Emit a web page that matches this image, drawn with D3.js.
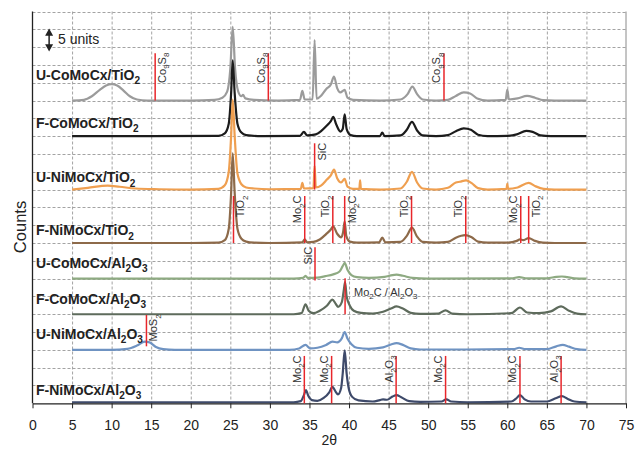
<!DOCTYPE html>
<html>
<head>
<meta charset="utf-8">
<script src="https://cdn.jsdelivr.net/npm/d3@7"></script>
<style>
body { margin: 0; background: #fff; }
svg { display: block; font-family: "Liberation Sans", Arial, sans-serif; }
</style>
</head>
<body>
<svg id="xrd" width="639" height="455"></svg>
<script>
// sample names, top to bottom ("_" marks a subscript)
const samples = ["U-CoMoCx/TiO_2", "F-CoMoCx/TiO_2", "U-NiMoCx/TiO_2", "F-NiMoCx/TiO_2",
                 "U-CoMoCx/Al_2O_3", "F-CoMoCx/Al_2O_3", "U-NiMoCx/Al_2O_3", "F-NiMoCx/Al_2O_3"];
// vertical shift of each pattern (counts units)
const offsets = [85, 75, 60, 45, 35, 25, 15, 0.3];
const colors = ["#9b9b9b", "#1c1c1c", "#ef9f50", "#8d6a4a", "#8eaa82", "#5e6b5c", "#6f93c2", "#3e4a6a"];

// patterns: [2theta, counts above own baseline]
const uCoTi = [[5,0],[6.5,0.2],[7.5,1.2],[8.5,3],[9.3,4.2],[10,4.6],[10.7,4.2],[11.5,2.8],[12.3,1.2],[13.2,0.3],[14.5,0],
  [20,0],[23,0.2],[24,0.8],[24.6,2.5],[25,9],[25.3,20.7],[25.6,9],[26,2.5],[26.4,1.2],[26.6,1.6],[26.9,0.6],[28,0.2],[31,0],
  [33.8,0.2],[34.1,2.7],[34.4,0.3],[35.4,0.3],[35.65,17],[35.9,0.5],[36.4,1.2],[37.1,3.2],[37.7,4.5],[38.1,6.7],[38.5,3.5],
  [38.9,2.3],[39.45,3],[39.8,0.8],[40.5,0.2],[44,0],[46.5,0.3],[47.4,1.8],[48,3.9],[48.6,1.8],[49.3,0.3],[51,0],[52.5,0.2],
  [53.5,1.3],[54.5,2.3],[55.3,2],[56.2,0.6],[57.5,0],[59.8,0.2],[60,3.1],[60.2,0.3],[61.3,0.6],[62.5,1.3],[63.5,0.8],
  [64.5,0.1],[66,0],[70,0]];
const fCoTi = [[5,0],[15,0],[23.5,0.1],[24.3,0.8],[24.8,3.5],[25.1,12],[25.3,21.3],[25.55,12],[25.9,3.5],[26.4,1],[27,0.3],
  [29,0],[33.8,0.1],[34.3,1.2],[34.7,0.2],[35.8,0.5],[36.5,1.5],[37.2,3],[37.7,4.2],[38,5.4],[38.4,3.2],[38.9,1.3],[39.2,2],
  [39.45,6.1],[39.7,2],[40.2,0.3],[41,0],[43.9,0],[44.2,1],[44.5,0],[46.5,0.2],[47.3,1.8],[47.95,4],[48.6,1.6],[49.3,0.2],
  [51,0],[52.5,0.3],[53.5,1.4],[54.5,2.2],[55.4,1.8],[56.3,0.4],[57.5,0],[60,0.1],[61.2,0.5],[62.4,1.5],[63.2,1.2],
  [64.2,0.2],[65.5,0],[70,0]];
const uNiTi = [[5,0],[7,0.5],[9.5,1.1],[11,0.8],[13,0.3],[16,0.1],[20,0],[23.5,0.2],[24.3,1.2],[24.8,5],[25.1,15],
  [25.3,25.3],[25.55,15],[25.9,4.5],[26.4,1.5],[27,0.6],[28,0.3],[30,0.1],[33.9,0.2],[34.1,1.9],[34.3,0.3],[35.5,0.4],
  [35.65,6.7],[35.8,0.6],[36.5,1.2],[37.2,2.8],[37.7,4],[38.1,5.6],[38.5,3.2],[39,2],[39.45,3],[39.8,0.8],[40.5,0.2],
  [41.3,0.2],[41.4,2.6],[41.5,0.2],[44,0],[46.5,0.3],[47.3,2.2],[47.95,5],[48.6,2],[49.3,0.3],[51,0],[52.5,0.5],[53.5,2],
  [54,2.2],[54.8,2.6],[55.5,1.8],[56.3,0.4],[57.5,0],[59.9,0.2],[60,1.6],[60.1,0.2],[61.3,0.6],[62.7,1.9],[63.6,0.9],
  [64.6,0.2],[66,0],[70,0]];
const fNiTi = [[5,0],[20,0],[23.5,0.1],[24.3,0.8],[24.8,4],[25.1,14],[25.3,25.2],[25.55,14],[25.9,4],[26.4,1.2],[27,0.4],
  [28,0.1],[30,0],[34.1,0.2],[34.4,1],[34.7,0.2],[35.5,0.3],[36.3,1],[37.1,2.5],[37.7,3.8],[38,4.7],[38.5,2.6],[39,1.6],
  [39.25,3],[39.45,6.1],[39.65,2],[40.1,0.4],[41,0.1],[43.8,0.2],[44.2,1.5],[44.6,0.2],[46.5,0.3],[47.3,2],[47.95,4.3],
  [48.6,1.8],[49.3,0.3],[51,0.1],[52.5,0.3],[53.5,1.5],[54.7,2.2],[55.5,1.6],[56.3,0.4],[57.5,0.1],[60,0.1],[61.2,0.6],
  [61.6,1],[62,0.8],[62.7,1.4],[63.5,0.6],[64.5,0.1],[66,0],[70,0]];
const uCoAl = [[5,0],[33,0],[34.2,0.2],[34.5,0.8],[34.8,0.2],[36,0.3],[37,0.7],[38,1.2],[38.8,2],[39.2,3.5],[39.45,4.4],
  [39.8,2.5],[40.3,1],[41,0.4],[42.5,0.2],[44.5,0.5],[45.5,1],[46,1.1],[46.8,0.8],[48,0.2],[50,0],[60.5,0.1],[61.5,0.4],
  [62.5,0.1],[65,0.1],[66.2,0.5],[66.9,0.6],[67.6,0.4],[68.5,0.1],[70,0]];
const fCoAl = [[5,0],[33,0],[34,0.3],[34.5,2.8],[34.9,1],[35.5,0.3],[36.3,1],[37.2,2.4],[37.9,4.1],[38.3,3],[38.6,2.1],
  [39.1,3.5],[39.35,7],[39.5,9],[39.7,5],[40.1,2.4],[40.6,1],[41.5,0.4],[43,0.2],[44.3,0.7],[45.3,1.6],[46,2.2],[46.8,1.6],
  [47.8,0.4],[49,0.1],[51.3,0.2],[52.2,1.1],[53,0.2],[55,0],[60.5,0.3],[61.6,1.9],[62.5,0.5],[64,0.3],[65.5,0.8],
  [66.8,2.2],[67.8,1],[68.8,0.2],[70,0]];
const uNiAl = [[5,0],[10,0],[12,0.3],[13.2,1.2],[14.2,2.3],[14.8,2.1],[15.6,0.8],[16.5,0.2],[18,0],[32.5,0],[33.7,0.4],
  [34.5,1.4],[35.1,0.4],[36,0.6],[37.1,1.4],[37.9,2.3],[38.5,2.1],[39.1,3.3],[39.45,5],[39.8,3.2],[40.3,1.6],[41,0.6],
  [42.5,0.3],[44.3,0.7],[45.3,1.5],[46,1.9],[46.8,1.4],[47.8,0.4],[49,0.1],[52,0.1],[60.8,0.2],[61.5,0.6],[62.3,0.2],
  [65,0.2],[66.2,1],[67,1.4],[67.8,0.9],[68.8,0.2],[70,0]];
const fNiAl = [[5,0],[33,0],[33.9,0.3],[34.3,2],[34.55,3.4],[34.85,1.8],[35.3,0.6],[36,0.4],[36.8,1.2],[37.5,2.8],
  [37.9,4.3],[38.3,3],[38.6,2.2],[39,4],[39.2,8],[39.45,14.6],[39.7,8],[39.95,4],[40.4,1.5],[41.2,0.5],[43,0.2],[43.9,0.6],
  [44.3,0.8],[44.8,0.7],[45.5,1.6],[46,2],[46.6,1.4],[47.6,0.3],[49,0.1],[51.7,0.2],[52.3,0.8],[52.9,0.2],[55,0],
  [60.5,0.2],[61.1,1],[61.6,2],[62.2,0.8],[63,0.2],[65,0.2],[66.2,1.2],[66.9,1.7],[67.6,1],[68.5,0.2],[70,0]];
const traces = [uCoTi, fCoTi, uNiTi, fNiTi, uCoAl, fCoAl, uNiAl, fNiAl];

// reference phase lines: [2theta, bottom, top, phase, label side]
const refLines = [
  [15.5, 85, 98.3, "Co_9S_8", "r"], [29.8, 85, 98.3, "Co_9S_8", "l"], [52.0, 85, 98.3, "Co_9S_8", "l"],
  [35.65, 60, 73, "SiC", "r"],
  [25.4, 45, 58.2, "TiO_2", "r"], [34.4, 45, 58.2, "Mo_2C", "l"], [37.95, 45, 58.2, "TiO_2", "l"],
  [39.45, 45, 58.2, "Mo_2C", "r"], [47.9, 45, 58.2, "TiO_2", "l"], [54.75, 45, 58.2, "TiO_2", "l"],
  [61.7, 45, 58.2, "Mo_2C", "l"], [62.7, 45, 58.2, "TiO_2", "r"],
  [35.7, 34.5, 43.8, "SiC", "l"],
  [39.5, 25, 35.1, "Mo_2C / Al_2O_3", "h"],
  [14.4, 16, 24.8, "MoS_2", "r"],
  [34.35, 0, 13.3, "Mo_2C", "l"], [37.8, 0, 13.3, "Mo_2C", "l"], [45.95, 0, 13.3, "Al_2O_3", "l"],
  [52.2, 0, 13.3, "Mo_2C", "l"], [61.6, 0, 13.3, "Mo_2C", "l"], [66.8, 0, 13.3, "Al_2O_3", "l"]
];

const xTicks = d3.range(0, 76, 5);
const yGrid = d3.range(5, 111, 5);

// lift of each sample name above its baseline (counts units)
const nameLift = [5.75, 2.25, 2.0, 2.15, 3.1, 2.8, 3.1, 2.0];

const svg = d3.select("#xrd");
const x = d3.scaleLinear().domain([0, 75]).range([32.5, 626]);
const y = d3.scaleLinear().domain([0, 110]).range([403.3, 11.5]);

// writes "TiO_2" style strings with subscripts into a text element
function richText(sel, str, fs) {
    const parts = str.split(/_(\d)/);
    const shift = fs * 0.3;
    parts.forEach((p, i) => {
        if (p === "") return;
        const t = sel.append("tspan").text(p);
        if (i % 2 === 1) {
            t.attr("font-size", fs * 0.72).attr("dy", shift);
        } else if (i > 0 && parts[i - 1] !== undefined) {
            t.attr("dy", -shift);
        }
    });
}

// grid
const grid = svg.append("g").attr("stroke", "#a3a3a3").attr("stroke-dasharray", "3,2").attr("stroke-width", 1);
grid.selectAll(".vg").data(xTicks.filter(d => d > 0 && d < 75)).join("line")
    .attr("x1", d => x(d) + 0.5).attr("x2", d => x(d) + 0.5)
    .attr("y1", y(110)).attr("y2", y(0));
grid.selectAll(".hg").data(yGrid).join("line")
    .attr("x1", x(0)).attr("x2", x(75))
    .attr("y1", d => Math.round(y(d)) + 0.5).attr("y2", d => Math.round(y(d)) + 0.5);

svg.append("line").attr("x1", x(75)).attr("x2", x(75)).attr("y1", y(110)).attr("y2", y(0))
    .attr("stroke", "#8a8a8a").attr("stroke-width", 1);
svg.append("line").attr("x1", x(0)).attr("x2", x(0)).attr("y1", y(110)).attr("y2", y(0))
    .attr("stroke", "#222").attr("stroke-width", 1.3);

// patterns
const line = d3.line().curve(d3.curveMonotoneX);
traces.forEach((tr, i) => {
    svg.append("path")
        .attr("d", line(tr.map(d => [x(d[0]), y(d[1] + offsets[i])])))
        .attr("fill", "none")
        .attr("stroke", colors[i])
        .attr("stroke-width", 2.2)
        .attr("stroke-linejoin", "round");
});

// x axis
const xAxis = svg.append("g")
    .attr("transform", `translate(0, ${y(0)})`)
    .call(d3.axisBottom(x).tickValues(xTicks).tickSize(5).tickSizeOuter(0).tickPadding(12));
xAxis.select(".domain").attr("stroke", "#222").attr("stroke-width", 1.3);
xAxis.selectAll(".tick line").attr("stroke", "#222");
xAxis.selectAll(".tick text")
    .attr("font-family", "\"Liberation Sans\", Arial, sans-serif")
    .attr("font-size", 14).attr("fill", "#222");

svg.append("text").text("2θ")
    .attr("x", x(37.5)).attr("y", 445)
    .attr("text-anchor", "middle").attr("font-size", 14).attr("fill", "#222");
svg.append("text").text("Counts")
    .attr("transform", `translate(26, 227) rotate(-90)`)
    .attr("text-anchor", "middle").attr("font-size", 16.5).attr("fill", "#222");

// phase reference lines
refLines.forEach(r => {
    const [pos, bot, top, label, side] = r;
    svg.append("line")
        .attr("x1", x(pos)).attr("x2", x(pos))
        .attr("y1", y(bot)).attr("y2", y(top))
        .attr("stroke", "#e8262b").attr("stroke-width", 1.5);
    const t = svg.append("text").attr("font-size", 11).attr("fill", "#333");
    if (side === "h") {
        t.attr("x", x(pos) + 9).attr("y", y(top) + 17.5);
    } else {
        const dx = side === "r" ? 11 : -3.5;
        t.attr("text-anchor", "end")
         .attr("transform", `translate(${x(pos) + dx}, ${y(top) - 0.5}) rotate(-90)`);
    }
    richText(t, label, 11);
});

// sample names
samples.forEach((s, i) => {
    const t = svg.append("text")
        .attr("x", 36).attr("y", y(offsets[i] + nameLift[i]))
        .attr("font-size", 14).attr("font-weight", "bold").attr("fill", "#222");
    richText(t, s, 14);
});

// scale bar: 5 units
const bx = x(2.1);
svg.append("line").attr("x1", bx).attr("x2", bx).attr("y1", y(104.2)).attr("y2", y(99.8))
    .attr("stroke", "#222").attr("stroke-width", 1.5);
svg.append("path")
    .attr("d", `M${bx - 4},${y(103.2)} L${bx},${y(105.2)} L${bx + 4},${y(103.2)} Z M${bx - 4},${y(100.8)} L${bx},${y(98.8)} L${bx + 4},${y(100.8)} Z`)
    .attr("fill", "#222");
svg.append("text").text("5 units")
    .attr("x", 58).attr("y", 44.3).attr("font-size", 14).attr("fill", "#222");
</script>
</body>
</html>
